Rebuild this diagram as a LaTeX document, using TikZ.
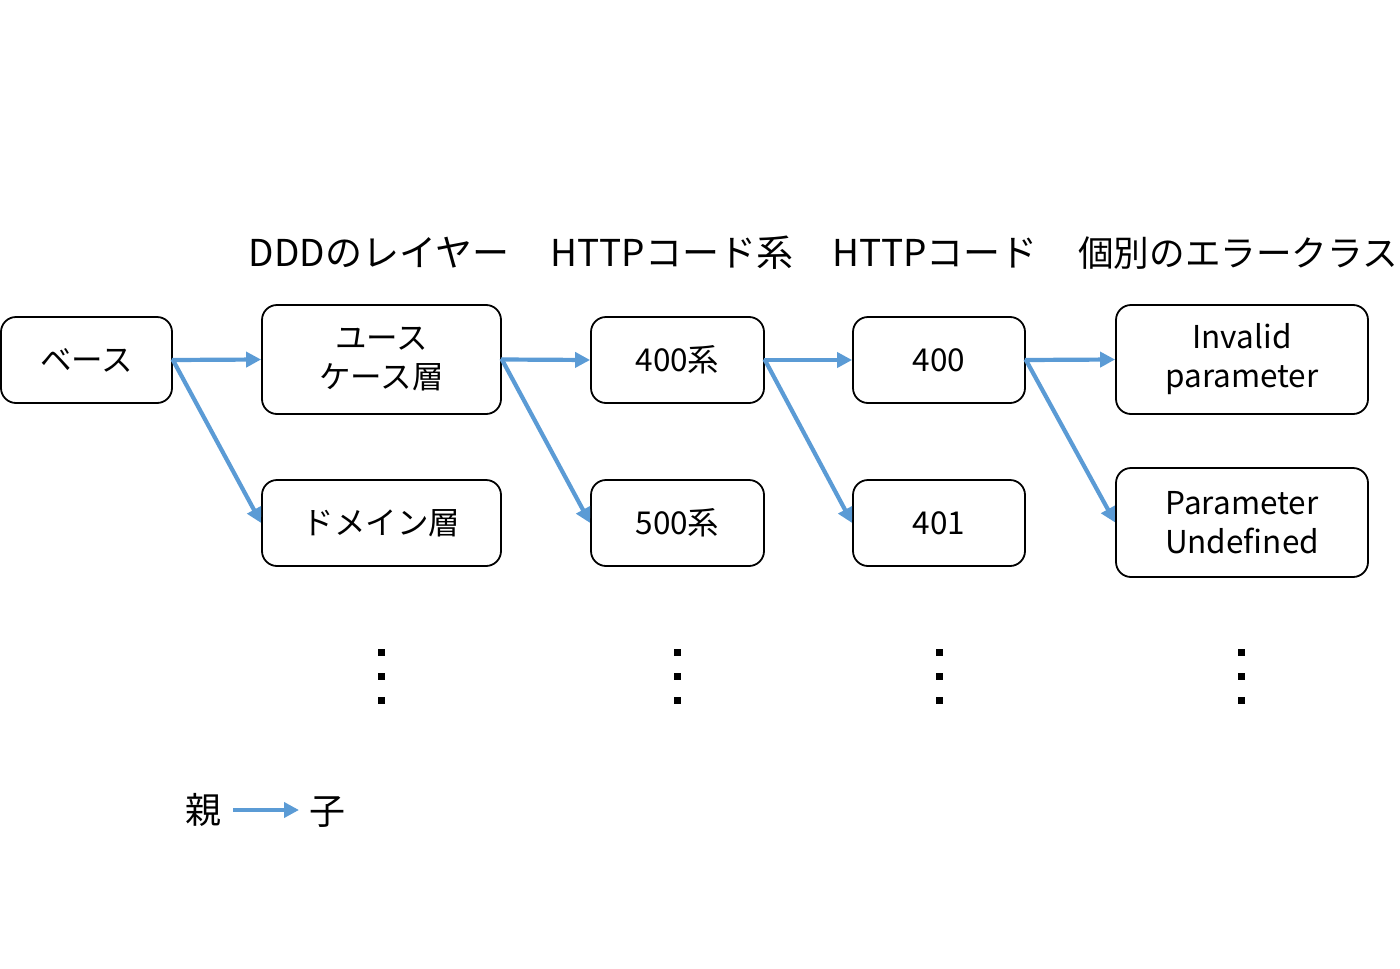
\documentclass[tikz,border=0pt]{standalone}
\usepackage{fontspec}
\setmainfont{Noto Sans CJK JP}
\usetikzlibrary{arrows.meta}
\definecolor{arrblue}{HTML}{5B9BD5}
\tikzset{
  box/.style={draw=black, line width=1.8pt, rounded corners=15pt, fill=white, align=center, inner sep=0pt, font=\fontsize{31.5}{39}\selectfont},
  hdr/.style={font=\fontsize{37}{44}\selectfont, inner sep=0pt},
  conn/.style={draw=arrblue, line width=4.2pt, -{Triangle[length=15pt,width=15pt]}, shorten <=-1pt},
  dot/.style={fill=black, minimum size=7pt, inner sep=0pt, draw=none, rectangle},
  lbl/.style={font=\fontsize{36}{42}\selectfont, inner sep=0pt}
}
\begin{document}
\begin{tikzpicture}[x=1pt,y=-1pt]
\useasboundingbox (0,0) rectangle (1400,969);
% headers
\node[hdr] (h1) at (379,253) {DDDのレイヤー};
\node[hdr] (h2) at (672,253) {HTTPコード系};
\node[hdr] (h3) at (935,253) {HTTPコード};
\node[hdr, anchor=west, font=\fontsize{35.6}{44}\selectfont] (h4) at (1078,253) {個別のエラークラス};
% boxes
\node[box, minimum width=171pt, minimum height=86pt] (base) at (86.5,360) {ベース};
\node[box, minimum width=239pt, minimum height=109pt] (uc) at (381.5,359.5) {ユース\\ケース層};
\node[box, minimum width=239pt, minimum height=86pt] (dom) at (381.5,523) {ドメイン層};
\node[box, minimum width=173pt, minimum height=86pt] (c400s) at (677.5,360) {400系};
\node[box, minimum width=173pt, minimum height=86pt] (c500s) at (677.5,523) {500系};
\node[box, minimum width=172pt, minimum height=86pt] (c400) at (939,360) {400};
\node[box, minimum width=172pt, minimum height=86pt] (c401) at (939,523) {401};
\node[box, minimum width=252pt, minimum height=109pt] (inv) at (1242,359.5) {Invalid\\parameter};
\node[box, minimum width=252pt, minimum height=109pt] (und) at (1242,522.5) {Parameter\\Undefined};
% connectors
\draw[conn] (base.east) -- (uc.west);
\draw[conn] (base.east) -- (dom.west);
\draw[conn] (uc.east) -- (c400s.west);
\draw[conn] (uc.east) -- (c500s.west);
\draw[conn] (c400s.east) -- (c400.west);
\draw[conn] (c400s.east) -- (c401.west);
\draw[conn] (c400.east) -- (inv.west);
\draw[conn] (c400.east) -- (und.west);
% dots
\foreach \x/\n in {381/a,677/b,939/c,1241/d}{
  \node[dot] (\n1) at (\x,652) {};
  \node[dot] (\n2) at (\x,676) {};
  \node[dot] (\n3) at (\x,700) {};
}
% legend
\node[lbl] (oya) at (203,810) {親};
\node[lbl] (ko) at (327,812) {子};
\coordinate (la) at (233,810);
\coordinate (lb) at (299,810);
\draw[conn, shorten <=0pt] (la) -- (lb);
\end{tikzpicture}
\end{document}
